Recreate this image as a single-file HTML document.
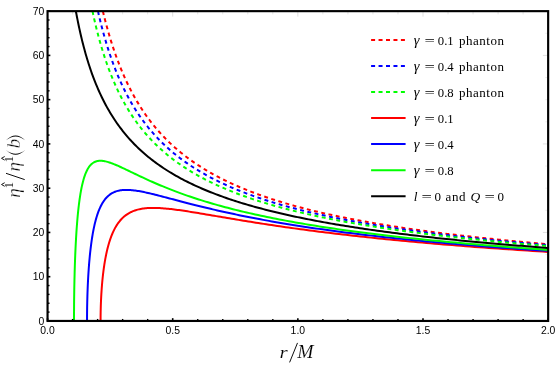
<!DOCTYPE html>
<html><head><meta charset="utf-8"><title>plot</title>
<style>html,body{margin:0;padding:0;background:#fff;}svg{display:block;will-change:transform;}text{font-family:"Liberation Sans",sans-serif;}.tk{font-size:10.4px;fill:#000;}.lg{font-family:"Liberation Serif",serif;font-size:13px;fill:#000;}.mi{font-family:"Liberation Serif",serif;font-style:italic;fill:#000;}</style></head><body>
<svg width="556" height="371" viewBox="0 0 556 371">
<rect x="0" y="0" width="556" height="371" fill="#ffffff"/>
<defs><clipPath id="cp"><rect x="47.55" y="11.15" width="500.60" height="309.80"/></clipPath></defs>
<g clip-path="url(#cp)" fill="none" stroke-width="2.00" stroke-linejoin="round">
<path d="M102.86 11.15 L102.92 11.41 L103.05 11.93 L103.22 12.63 L103.43 13.49 L103.67 14.48 L103.94 15.59 L104.24 16.80 L104.57 18.11 L104.93 19.50 L105.31 20.97 L105.72 22.51 L106.14 24.12 L106.59 25.79 L107.06 27.50 L107.55 29.27 L108.06 31.08 L108.59 32.93 L109.14 34.81 L109.71 36.72 L110.29 38.66 L110.90 40.63 L111.52 42.61 L112.16 44.61 L112.81 46.63 L113.48 48.65 L114.17 50.69 L114.87 52.73 L115.59 54.78 L116.33 56.83 L117.08 58.88 L117.85 60.93 L118.63 62.98 L119.42 65.02 L120.23 67.06 L121.06 69.09 L121.90 71.11 L122.75 73.12 L123.62 75.12 L124.50 77.11 L125.39 79.09 L126.30 81.05 L127.22 83.00 L128.16 84.93 L129.11 86.86 L130.07 88.76 L131.04 90.65 L132.03 92.52 L133.03 94.37 L134.04 96.21 L135.06 98.03 L136.10 99.83 L137.15 101.62 L138.21 103.38 L139.28 105.13 L140.37 106.86 L141.46 108.57 L142.57 110.26 L143.69 111.93 L144.83 113.59 L145.97 115.22 L147.12 116.84 L148.29 118.44 L149.47 120.02 L150.66 121.58 L151.86 123.12 L153.07 124.64 L154.29 126.15 L155.53 127.64 L156.77 129.11 L158.03 130.56 L159.29 131.99 L160.57 133.41 L161.86 134.81 L163.16 136.19 L164.47 137.55 L165.79 138.90 L167.12 140.23 L168.46 141.55 L169.81 142.85 L171.17 144.13 L172.54 145.39 L173.92 146.65 L175.31 147.88 L176.72 149.10 L178.13 150.31 L179.55 151.49 L180.98 152.67 L182.42 153.83 L183.87 154.98 L185.34 156.11 L186.81 157.23 L188.29 158.33 L189.78 159.42 L191.28 160.50 L192.79 161.56 L194.31 162.61 L195.84 163.65 L197.37 164.68 L198.92 165.69 L200.48 166.69 L202.05 167.68 L203.62 168.66 L205.21 169.62 L206.80 170.58 L208.41 171.52 L210.02 172.45 L211.64 173.37 L213.27 174.28 L214.91 175.18 L216.56 176.06 L218.22 176.94 L219.89 177.81 L221.56 178.66 L223.25 179.51 L224.94 180.35 L226.65 181.18 L228.36 181.99 L230.08 182.80 L231.81 183.60 L233.55 184.39 L235.29 185.17 L237.05 185.95 L238.81 186.71 L240.59 187.47 L242.37 188.21 L244.16 188.95 L245.96 189.68 L247.76 190.41 L249.58 191.12 L251.40 191.83 L253.23 192.53 L255.07 193.22 L256.92 193.90 L258.78 194.58 L260.65 195.25 L262.52 195.91 L264.40 196.56 L266.30 197.21 L268.19 197.85 L270.10 198.49 L272.02 199.12 L273.94 199.74 L275.87 200.35 L277.81 200.96 L279.76 201.57 L281.72 202.16 L283.68 202.75 L285.65 203.34 L287.63 203.91 L289.62 204.49 L291.62 205.05 L293.62 205.62 L295.63 206.17 L297.65 206.72 L299.68 207.27 L301.72 207.81 L303.76 208.34 L305.81 208.87 L307.87 209.39 L309.94 209.91 L312.01 210.42 L314.09 210.93 L316.18 211.44 L318.28 211.94 L320.39 212.43 L322.50 212.92 L324.62 213.41 L326.75 213.89 L328.89 214.36 L331.03 214.83 L333.18 215.30 L335.34 215.77 L337.51 216.22 L339.68 216.68 L341.86 217.13 L344.05 217.58 L346.25 218.02 L348.45 218.46 L350.66 218.89 L352.88 219.32 L355.11 219.75 L357.34 220.17 L359.58 220.59 L361.83 221.01 L364.09 221.42 L366.35 221.83 L368.62 222.24 L370.90 222.64 L373.18 223.04 L375.47 223.43 L377.77 223.82 L380.08 224.21 L382.39 224.60 L384.71 224.98 L387.04 225.36 L389.38 225.73 L391.72 226.10 L394.07 226.47 L396.43 226.84 L398.79 227.20 L401.16 227.56 L403.54 227.92 L405.92 228.27 L408.32 228.63 L410.72 228.97 L413.12 229.32 L415.53 229.66 L417.96 230.00 L420.38 230.34 L422.82 230.68 L425.26 231.01 L427.71 231.34 L430.16 231.67 L432.62 231.99 L435.09 232.31 L437.57 232.63 L440.05 232.95 L442.54 233.27 L445.04 233.58 L447.54 233.89 L450.05 234.20 L452.57 234.50 L455.09 234.81 L457.62 235.11 L460.16 235.41 L462.70 235.70 L465.25 236.00 L467.81 236.29 L470.38 236.58 L472.95 236.87 L475.53 237.15 L478.11 237.44 L480.70 237.72 L483.30 238.00 L485.90 238.28 L488.52 238.55 L491.13 238.83 L493.76 239.10 L496.39 239.37 L499.03 239.64 L501.67 239.90 L504.32 240.17 L506.98 240.43 L509.64 240.69 L512.32 240.95 L514.99 241.20 L517.68 241.46 L520.37 241.71 L523.06 241.97 L525.77 242.22 L528.48 242.46 L531.19 242.71 L533.92 242.96 L536.65 243.20 L539.38 243.44 L542.12 243.68 L544.87 243.92 L547.63 244.16 L550.39 244.39 L553.16 244.63" stroke="#ff0000" stroke-dasharray="3.9 3.51" stroke-dashoffset="0.0"/>
<path d="M97.95 11.15 L98.01 11.43 L98.14 11.98 L98.31 12.74 L98.52 13.66 L98.77 14.72 L99.05 15.90 L99.35 17.19 L99.69 18.59 L100.05 20.07 L100.43 21.64 L100.84 23.28 L101.27 24.98 L101.72 26.75 L102.20 28.57 L102.69 30.44 L103.21 32.35 L103.75 34.30 L104.30 36.28 L104.87 38.29 L105.47 40.33 L106.08 42.39 L106.70 44.47 L107.35 46.56 L108.01 48.66 L108.69 50.78 L109.39 52.90 L110.10 55.02 L110.83 57.14 L111.57 59.27 L112.33 61.39 L113.10 63.51 L113.89 65.62 L114.70 67.73 L115.52 69.82 L116.35 71.91 L117.20 73.98 L118.06 76.05 L118.94 78.09 L119.83 80.13 L120.73 82.15 L121.65 84.15 L122.58 86.14 L123.53 88.11 L124.48 90.06 L125.46 91.99 L126.44 93.90 L127.44 95.80 L128.45 97.68 L129.47 99.53 L130.51 101.37 L131.55 103.19 L132.61 104.98 L133.69 106.76 L134.77 108.52 L135.87 110.25 L136.98 111.97 L138.10 113.66 L139.23 115.34 L140.38 116.99 L141.53 118.63 L142.70 120.24 L143.88 121.84 L145.07 123.41 L146.27 124.97 L147.49 126.50 L148.71 128.02 L149.95 129.52 L151.20 131.00 L152.45 132.46 L153.72 133.90 L155.00 135.32 L156.29 136.72 L157.60 138.11 L158.91 139.48 L160.23 140.83 L161.57 142.16 L162.91 143.48 L164.27 144.77 L165.63 146.06 L167.01 147.32 L168.39 148.57 L169.79 149.80 L171.20 151.02 L172.61 152.22 L174.04 153.41 L175.48 154.58 L176.93 155.74 L178.38 156.88 L179.85 158.00 L181.33 159.12 L182.81 160.21 L184.31 161.30 L185.82 162.37 L187.34 163.43 L188.86 164.47 L190.40 165.50 L191.94 166.52 L193.50 167.52 L195.06 168.52 L196.64 169.50 L198.22 170.46 L199.81 171.42 L201.42 172.37 L203.03 173.30 L204.65 174.22 L206.28 175.13 L207.92 176.03 L209.57 176.92 L211.23 177.80 L212.89 178.67 L214.57 179.52 L216.26 180.37 L217.95 181.21 L219.65 182.03 L221.37 182.85 L223.09 183.66 L224.82 184.46 L226.56 185.25 L228.31 186.03 L230.06 186.80 L231.83 187.56 L233.60 188.32 L235.39 189.06 L237.18 189.80 L238.98 190.53 L240.79 191.25 L242.61 191.96 L244.43 192.66 L246.27 193.36 L248.11 194.05 L249.97 194.73 L251.83 195.41 L253.70 196.07 L255.57 196.73 L257.46 197.39 L259.36 198.03 L261.26 198.67 L263.17 199.30 L265.09 199.93 L267.02 200.54 L268.95 201.16 L270.90 201.76 L272.85 202.36 L274.81 202.96 L276.78 203.54 L278.76 204.12 L280.74 204.70 L282.74 205.27 L284.74 205.83 L286.75 206.39 L288.77 206.94 L290.79 207.49 L292.83 208.03 L294.87 208.57 L296.92 209.10 L298.98 209.62 L301.04 210.14 L303.12 210.66 L305.20 211.17 L307.29 211.67 L309.38 212.17 L311.49 212.67 L313.60 213.16 L315.72 213.65 L317.85 214.13 L319.99 214.61 L322.13 215.08 L324.28 215.55 L326.44 216.01 L328.61 216.47 L330.78 216.93 L332.97 217.38 L335.16 217.82 L337.35 218.27 L339.56 218.71 L341.77 219.14 L343.99 219.57 L346.22 220.00 L348.46 220.42 L350.70 220.84 L352.95 221.26 L355.21 221.67 L357.47 222.08 L359.74 222.49 L362.02 222.89 L364.31 223.29 L366.61 223.68 L368.91 224.08 L371.22 224.46 L373.54 224.85 L375.86 225.23 L378.19 225.61 L380.53 225.98 L382.88 226.36 L385.23 226.73 L387.59 227.09 L389.96 227.46 L392.34 227.82 L394.72 228.17 L397.11 228.53 L399.50 228.88 L401.91 229.23 L404.32 229.57 L406.74 229.92 L409.16 230.26 L411.60 230.59 L414.04 230.93 L416.48 231.26 L418.94 231.59 L421.40 231.92 L423.86 232.24 L426.34 232.56 L428.82 232.88 L431.31 233.20 L433.81 233.52 L436.31 233.83 L438.82 234.14 L441.34 234.45 L443.86 234.75 L446.39 235.05 L448.93 235.35 L451.47 235.65 L454.02 235.95 L456.58 236.24 L459.15 236.54 L461.72 236.82 L464.30 237.11 L466.88 237.40 L469.47 237.68 L472.07 237.96 L474.68 238.24 L477.29 238.52 L479.91 238.79 L482.54 239.07 L485.17 239.34 L487.81 239.61 L490.46 239.88 L493.11 240.14 L495.77 240.41 L498.44 240.67 L501.11 240.93 L503.79 241.19 L506.48 241.44 L509.17 241.70 L511.87 241.95 L514.58 242.20 L517.29 242.45 L520.01 242.70 L522.74 242.95 L525.47 243.19 L528.21 243.43 L530.95 243.68 L533.71 243.92 L536.47 244.15 L539.23 244.39 L542.00 244.63 L544.78 244.86 L547.57 245.09 L550.36 245.32 L553.16 245.55" stroke="#0000ff" stroke-dasharray="3.9 3.51" stroke-dashoffset="0.0"/>
<path d="M92.49 11.15 L92.55 11.45 L92.68 12.05 L92.86 12.87 L93.07 13.86 L93.32 15.00 L93.60 16.27 L93.91 17.66 L94.25 19.16 L94.61 20.75 L95.00 22.43 L95.41 24.18 L95.85 26.01 L96.31 27.89 L96.79 29.82 L97.29 31.81 L97.81 33.84 L98.35 35.90 L98.91 38.00 L99.50 40.12 L100.09 42.27 L100.71 44.43 L101.35 46.61 L102.00 48.80 L102.67 51.00 L103.36 53.21 L104.06 55.42 L104.78 57.63 L105.52 59.84 L106.27 62.04 L107.04 64.24 L107.82 66.42 L108.62 68.60 L109.44 70.77 L110.26 72.92 L111.11 75.07 L111.97 77.19 L112.84 79.30 L113.73 81.40 L114.63 83.47 L115.54 85.53 L116.47 87.56 L117.41 89.58 L118.37 91.58 L119.34 93.56 L120.32 95.51 L121.32 97.45 L122.33 99.36 L123.35 101.25 L124.39 103.12 L125.43 104.97 L126.49 106.79 L127.57 108.60 L128.65 110.38 L129.75 112.14 L130.86 113.87 L131.98 115.59 L133.12 117.28 L134.26 118.95 L135.42 120.60 L136.59 122.23 L137.77 123.84 L138.97 125.42 L140.17 126.99 L141.39 128.53 L142.62 130.05 L143.86 131.56 L145.11 133.04 L146.37 134.50 L147.65 135.94 L148.93 137.37 L150.23 138.77 L151.53 140.16 L152.85 141.53 L154.18 142.87 L155.52 144.21 L156.87 145.52 L158.23 146.81 L159.60 148.09 L160.98 149.35 L162.37 150.60 L163.78 151.82 L165.19 153.03 L166.61 154.23 L168.05 155.41 L169.49 156.57 L170.95 157.72 L172.41 158.85 L173.89 159.97 L175.37 161.07 L176.87 162.16 L178.37 163.24 L179.89 164.30 L181.41 165.34 L182.94 166.38 L184.49 167.40 L186.04 168.41 L187.61 169.40 L189.18 170.38 L190.77 171.35 L192.36 172.31 L193.96 173.25 L195.57 174.19 L197.19 175.11 L198.83 176.02 L200.47 176.92 L202.12 177.81 L203.78 178.69 L205.45 179.55 L207.12 180.41 L208.81 181.25 L210.51 182.09 L212.21 182.92 L213.93 183.73 L215.65 184.54 L217.38 185.33 L219.13 186.12 L220.88 186.90 L222.64 187.67 L224.41 188.43 L226.19 189.18 L227.97 189.92 L229.77 190.66 L231.57 191.38 L233.39 192.10 L235.21 192.81 L237.04 193.51 L238.88 194.20 L240.73 194.89 L242.59 195.57 L244.45 196.24 L246.33 196.90 L248.21 197.56 L250.10 198.21 L252.00 198.85 L253.91 199.48 L255.83 200.11 L257.76 200.73 L259.69 201.35 L261.63 201.96 L263.58 202.56 L265.54 203.15 L267.51 203.74 L269.49 204.33 L271.47 204.90 L273.46 205.48 L275.47 206.04 L277.47 206.60 L279.49 207.16 L281.52 207.70 L283.55 208.25 L285.59 208.78 L287.64 209.32 L289.70 209.84 L291.77 210.36 L293.84 210.88 L295.93 211.39 L298.02 211.90 L300.12 212.40 L302.22 212.90 L304.34 213.39 L306.46 213.88 L308.59 214.36 L310.73 214.84 L312.87 215.31 L315.03 215.78 L317.19 216.25 L319.36 216.71 L321.54 217.16 L323.72 217.61 L325.91 218.06 L328.12 218.51 L330.32 218.95 L332.54 219.38 L334.76 219.81 L337.00 220.24 L339.24 220.66 L341.48 221.08 L343.74 221.50 L346.00 221.91 L348.27 222.32 L350.55 222.73 L352.83 223.13 L355.12 223.53 L357.42 223.93 L359.73 224.32 L362.05 224.71 L364.37 225.09 L366.70 225.47 L369.04 225.85 L371.38 226.23 L373.73 226.60 L376.09 226.97 L378.46 227.33 L380.83 227.70 L383.22 228.06 L385.61 228.41 L388.00 228.77 L390.41 229.12 L392.82 229.47 L395.23 229.81 L397.66 230.16 L400.09 230.50 L402.53 230.83 L404.98 231.17 L407.44 231.50 L409.90 231.83 L412.37 232.16 L414.84 232.48 L417.32 232.80 L419.82 233.12 L422.31 233.44 L424.82 233.76 L427.33 234.07 L429.85 234.38 L432.37 234.68 L434.91 234.99 L437.45 235.29 L439.99 235.59 L442.55 235.89 L445.11 236.19 L447.68 236.48 L450.25 236.77 L452.83 237.06 L455.42 237.35 L458.02 237.63 L460.62 237.92 L463.23 238.20 L465.85 238.48 L468.47 238.75 L471.10 239.03 L473.74 239.30 L476.38 239.57 L479.03 239.84 L481.69 240.11 L484.36 240.37 L487.03 240.64 L489.71 240.90 L492.39 241.16 L495.08 241.42 L497.78 241.67 L500.49 241.93 L503.20 242.18 L505.92 242.43 L508.64 242.68 L511.37 242.93 L514.11 243.18 L516.86 243.42 L519.61 243.66 L522.37 243.90 L525.14 244.14 L527.91 244.38 L530.69 244.62 L533.47 244.85 L536.26 245.09 L539.06 245.32 L541.87 245.55 L544.68 245.78 L547.50 246.00 L550.32 246.23 L553.16 246.45" stroke="#00ff00" stroke-dasharray="3.9 3.51" stroke-dashoffset="0.0"/>
<path d="M100.58 320.95 L100.58 320.79 L100.58 320.50 L100.58 320.13 L100.58 319.69 L100.58 319.19 L100.58 318.63 L100.58 318.03 L100.59 317.38 L100.59 316.69 L100.60 315.97 L100.61 315.20 L100.62 314.40 L100.63 313.57 L100.65 312.70 L100.66 311.80 L100.68 310.88 L100.70 309.92 L100.73 308.94 L100.75 307.93 L100.78 306.90 L100.81 305.84 L100.85 304.76 L100.89 303.66 L100.93 302.53 L100.98 301.38 L101.03 300.22 L101.08 299.03 L101.14 297.83 L101.20 296.61 L101.27 295.37 L101.34 294.12 L101.42 292.85 L101.50 291.57 L101.59 290.27 L101.68 288.96 L101.78 287.64 L101.88 286.31 L101.99 284.97 L102.10 283.62 L102.22 282.26 L102.35 280.89 L102.48 279.51 L102.62 278.13 L102.77 276.75 L102.92 275.36 L103.08 273.97 L103.25 272.57 L103.42 271.18 L103.60 269.78 L103.79 268.38 L103.99 266.99 L104.20 265.60 L104.41 264.20 L104.63 262.82 L104.86 261.43 L105.10 260.06 L105.34 258.69 L105.60 257.32 L105.86 255.97 L106.14 254.62 L106.42 253.28 L106.71 251.95 L107.01 250.63 L107.33 249.33 L107.65 248.04 L107.98 246.76 L108.32 245.49 L108.67 244.24 L109.03 243.01 L109.41 241.79 L109.79 240.58 L110.19 239.40 L110.59 238.23 L111.01 237.08 L111.44 235.95 L111.88 234.84 L112.33 233.75 L112.80 232.68 L113.27 231.62 L113.76 230.60 L114.26 229.59 L114.77 228.60 L115.30 227.64 L115.84 226.70 L116.39 225.78 L116.95 224.88 L117.53 224.01 L118.12 223.16 L118.73 222.34 L119.35 221.54 L119.98 220.76 L120.63 220.01 L121.29 219.28 L121.96 218.57 L122.65 217.89 L123.36 217.23 L124.08 216.60 L124.81 215.99 L125.56 215.41 L126.33 214.85 L127.11 214.31 L127.90 213.79 L128.71 213.30 L129.54 212.84 L130.38 212.39 L131.24 211.97 L132.12 211.57 L133.01 211.19 L133.92 210.84 L134.85 210.51 L135.79 210.20 L136.75 209.91 L137.73 209.64 L138.73 209.39 L139.74 209.17 L140.77 208.96 L141.82 208.77 L142.88 208.60 L143.97 208.46 L145.07 208.33 L146.19 208.21 L147.33 208.12 L148.49 208.04 L149.67 207.99 L150.87 207.94 L152.09 207.92 L153.32 207.91 L154.58 207.92 L155.85 207.94 L157.15 207.98 L158.46 208.03 L159.80 208.10 L161.16 208.18 L162.53 208.27 L163.93 208.38 L165.35 208.50 L166.79 208.63 L168.25 208.78 L169.73 208.94 L171.23 209.11 L172.76 209.29 L174.30 209.48 L175.87 209.68 L177.46 209.89 L179.08 210.11 L180.71 210.34 L182.37 210.58 L184.05 210.83 L185.75 211.08 L187.48 211.35 L189.23 211.62 L191.00 211.90 L192.80 212.19 L194.62 212.49 L196.46 212.79 L198.33 213.10 L200.22 213.41 L202.14 213.73 L204.08 214.06 L206.05 214.39 L208.04 214.73 L210.05 215.07 L212.09 215.42 L214.16 215.77 L216.25 216.13 L218.36 216.49 L220.50 216.85 L222.67 217.22 L224.87 217.59 L227.08 217.97 L229.33 218.34 L231.60 218.72 L233.90 219.11 L236.23 219.50 L238.58 219.88 L240.96 220.28 L243.36 220.67 L245.80 221.06 L248.26 221.46 L250.75 221.86 L253.27 222.26 L255.81 222.66 L258.38 223.07 L260.98 223.47 L263.61 223.88 L266.27 224.28 L268.96 224.69 L271.68 225.10 L274.42 225.51 L277.19 225.92 L280.00 226.32 L282.83 226.73 L285.69 227.14 L288.59 227.55 L291.51 227.96 L294.46 228.37 L297.44 228.78 L300.46 229.19 L303.50 229.60 L306.57 230.01 L309.68 230.42 L312.82 230.83 L315.98 231.23 L319.18 231.64 L322.41 232.05 L325.68 232.45 L328.97 232.85 L332.30 233.26 L335.65 233.66 L339.05 234.06 L342.47 234.46 L345.92 234.86 L349.41 235.26 L352.93 235.66 L356.49 236.05 L360.08 236.45 L363.70 236.84 L367.35 237.23 L371.04 237.62 L374.76 238.01 L378.52 238.40 L382.31 238.78 L386.13 239.17 L389.99 239.55 L393.88 239.94 L397.81 240.32 L401.77 240.69 L405.77 241.07 L409.81 241.45 L413.87 241.82 L417.98 242.19 L422.12 242.56 L426.29 242.93 L430.51 243.30 L434.75 243.67 L439.04 244.03 L443.36 244.39 L447.72 244.75 L452.11 245.11 L456.54 245.47 L461.01 245.82 L465.52 246.18 L470.06 246.53 L474.64 246.88 L479.26 247.23 L483.91 247.58 L488.61 247.92 L493.34 248.26 L498.11 248.60 L502.92 248.94 L507.77 249.28 L512.65 249.62 L517.58 249.95 L522.54 250.28 L527.54 250.61 L532.59 250.94 L537.67 251.27 L542.79 251.59 L547.95 251.92 L553.16 252.24" stroke="#ff0000"/>
<path d="M87.03 320.95 L87.03 320.74 L87.03 320.34 L87.04 319.83 L87.04 319.23 L87.04 318.55 L87.04 317.79 L87.04 316.97 L87.05 316.09 L87.05 315.15 L87.06 314.16 L87.07 313.11 L87.08 312.02 L87.09 310.89 L87.11 309.71 L87.12 308.49 L87.14 307.23 L87.16 305.93 L87.19 304.59 L87.22 303.23 L87.25 301.82 L87.28 300.39 L87.32 298.92 L87.36 297.43 L87.40 295.90 L87.45 294.35 L87.50 292.78 L87.56 291.18 L87.62 289.56 L87.68 287.91 L87.75 286.25 L87.82 284.57 L87.90 282.87 L87.99 281.15 L88.08 279.42 L88.17 277.68 L88.27 275.92 L88.38 274.15 L88.49 272.38 L88.61 270.59 L88.73 268.80 L88.86 267.01 L89.00 265.20 L89.14 263.40 L89.29 261.60 L89.45 259.79 L89.62 257.99 L89.79 256.19 L89.97 254.40 L90.15 252.61 L90.35 250.83 L90.55 249.05 L90.76 247.29 L90.98 245.54 L91.21 243.80 L91.45 242.07 L91.69 240.36 L91.95 238.67 L92.21 236.99 L92.48 235.33 L92.76 233.70 L93.05 232.08 L93.35 230.48 L93.67 228.91 L93.99 227.36 L94.32 225.84 L94.66 224.34 L95.01 222.87 L95.37 221.43 L95.75 220.01 L96.13 218.63 L96.53 217.27 L96.93 215.95 L97.35 214.65 L97.78 213.39 L98.22 212.16 L98.68 210.96 L99.14 209.80 L99.62 208.67 L100.11 207.57 L100.61 206.51 L101.13 205.48 L101.66 204.48 L102.20 203.52 L102.75 202.59 L103.32 201.70 L103.90 200.85 L104.50 200.02 L105.11 199.24 L105.73 198.48 L106.37 197.77 L107.02 197.08 L107.69 196.43 L108.37 195.81 L109.06 195.23 L109.77 194.68 L110.50 194.16 L111.24 193.67 L112.00 193.22 L112.77 192.79 L113.55 192.40 L114.36 192.04 L115.18 191.71 L116.01 191.41 L116.87 191.13 L117.74 190.89 L118.62 190.67 L119.52 190.49 L120.44 190.32 L121.38 190.19 L122.33 190.08 L123.30 189.99 L124.29 189.93 L125.30 189.90 L126.33 189.88 L127.37 189.89 L128.43 189.92 L129.51 189.98 L130.61 190.05 L131.73 190.15 L132.86 190.26 L134.02 190.40 L135.19 190.55 L136.39 190.72 L137.60 190.91 L138.83 191.11 L140.09 191.33 L141.36 191.57 L142.65 191.82 L143.97 192.09 L145.30 192.37 L146.65 192.67 L148.03 192.98 L149.43 193.30 L150.85 193.63 L152.28 193.98 L153.75 194.33 L155.23 194.70 L156.73 195.08 L158.26 195.46 L159.81 195.86 L161.38 196.27 L162.97 196.68 L164.59 197.10 L166.22 197.53 L167.89 197.97 L169.57 198.42 L171.28 198.87 L173.01 199.33 L174.76 199.79 L176.54 200.26 L178.34 200.74 L180.17 201.22 L182.02 201.70 L183.89 202.19 L185.79 202.68 L187.72 203.18 L189.67 203.68 L191.64 204.18 L193.64 204.69 L195.66 205.20 L197.71 205.71 L199.79 206.23 L201.89 206.75 L204.01 207.27 L206.17 207.79 L208.35 208.31 L210.55 208.83 L212.78 209.36 L215.04 209.88 L217.33 210.41 L219.64 210.94 L221.98 211.46 L224.35 211.99 L226.74 212.52 L229.17 213.05 L231.62 213.58 L234.10 214.10 L236.60 214.63 L239.14 215.16 L241.70 215.68 L244.29 216.21 L246.91 216.73 L249.56 217.26 L252.24 217.78 L254.95 218.30 L257.69 218.82 L260.46 219.34 L263.25 219.86 L266.08 220.38 L268.94 220.89 L271.82 221.40 L274.74 221.91 L277.69 222.42 L280.67 222.93 L283.68 223.44 L286.72 223.94 L289.79 224.44 L292.90 224.95 L296.03 225.44 L299.20 225.94 L302.40 226.43 L305.63 226.93 L308.89 227.41 L312.18 227.90 L315.51 228.39 L318.87 228.87 L322.26 229.35 L325.69 229.83 L329.15 230.30 L332.64 230.78 L336.16 231.25 L339.72 231.72 L343.32 232.18 L346.94 232.65 L350.60 233.11 L354.30 233.57 L358.03 234.02 L361.79 234.47 L365.59 234.93 L369.42 235.37 L373.29 235.82 L377.19 236.26 L381.13 236.70 L385.11 237.14 L389.12 237.58 L393.16 238.01 L397.25 238.44 L401.36 238.87 L405.52 239.29 L409.71 239.72 L413.93 240.13 L418.20 240.55 L422.50 240.97 L426.84 241.38 L431.21 241.79 L435.62 242.20 L440.07 242.60 L444.56 243.00 L449.09 243.40 L453.65 243.80 L458.25 244.19 L462.89 244.58 L467.57 244.97 L472.29 245.36 L477.05 245.75 L481.84 246.13 L486.68 246.51 L491.55 246.88 L496.46 247.26 L501.41 247.63 L506.41 248.00 L511.44 248.37 L516.51 248.73 L521.63 249.09 L526.78 249.45 L531.97 249.81 L537.21 250.17 L542.48 250.52 L547.80 250.87 L553.16 251.22" stroke="#0000ff"/>
<path d="M74.01 320.95 L74.01 320.62 L74.01 320.03 L74.01 319.26 L74.01 318.35 L74.01 317.31 L74.02 316.17 L74.02 314.93 L74.02 313.59 L74.03 312.17 L74.04 310.67 L74.05 309.10 L74.06 307.45 L74.07 305.73 L74.08 303.95 L74.10 302.11 L74.12 300.21 L74.14 298.26 L74.17 296.25 L74.20 294.19 L74.23 292.09 L74.26 289.93 L74.30 287.74 L74.34 285.50 L74.39 283.23 L74.44 280.92 L74.49 278.58 L74.55 276.21 L74.61 273.81 L74.67 271.38 L74.75 268.93 L74.82 266.46 L74.90 263.98 L74.99 261.47 L75.08 258.96 L75.18 256.43 L75.28 253.89 L75.39 251.35 L75.51 248.81 L75.63 246.27 L75.75 243.73 L75.89 241.20 L76.03 238.67 L76.18 236.15 L76.33 233.65 L76.49 231.16 L76.66 228.69 L76.84 226.25 L77.02 223.82 L77.22 221.42 L77.42 219.04 L77.63 216.70 L77.84 214.39 L78.07 212.11 L78.30 209.87 L78.55 207.66 L78.80 205.50 L79.06 203.38 L79.33 201.30 L79.61 199.26 L79.90 197.27 L80.20 195.33 L80.51 193.44 L80.83 191.59 L81.16 189.80 L81.50 188.06 L81.85 186.38 L82.21 184.74 L82.58 183.17 L82.97 181.64 L83.36 180.17 L83.77 178.76 L84.18 177.41 L84.61 176.11 L85.06 174.86 L85.51 173.68 L85.98 172.54 L86.46 171.47 L86.95 170.45 L87.45 169.48 L87.97 168.58 L88.50 167.72 L89.04 166.92 L89.60 166.17 L90.17 165.48 L90.75 164.83 L91.35 164.24 L91.96 163.70 L92.59 163.20 L93.23 162.76 L93.88 162.36 L94.55 162.01 L95.24 161.71 L95.94 161.45 L96.65 161.23 L97.38 161.06 L98.13 160.92 L98.89 160.83 L99.67 160.77 L100.46 160.76 L101.27 160.78 L102.10 160.83 L102.94 160.93 L103.80 161.05 L104.67 161.21 L105.57 161.39 L106.48 161.61 L107.41 161.86 L108.35 162.13 L109.31 162.44 L110.29 162.77 L111.29 163.12 L112.31 163.50 L113.35 163.90 L114.40 164.32 L115.47 164.76 L116.56 165.22 L117.67 165.71 L118.80 166.21 L119.95 166.73 L121.12 167.26 L122.30 167.81 L123.51 168.38 L124.74 168.96 L125.99 169.55 L127.25 170.16 L128.54 170.77 L129.85 171.40 L131.18 172.04 L132.53 172.69 L133.90 173.35 L135.30 174.02 L136.71 174.69 L138.15 175.38 L139.60 176.07 L141.08 176.76 L142.58 177.47 L144.11 178.18 L145.65 178.89 L147.22 179.61 L148.81 180.33 L150.43 181.05 L152.07 181.78 L153.73 182.52 L155.41 183.25 L157.12 183.99 L158.85 184.72 L160.61 185.46 L162.39 186.20 L164.19 186.95 L166.02 187.69 L167.87 188.43 L169.75 189.17 L171.65 189.91 L173.58 190.66 L175.53 191.40 L177.51 192.14 L179.51 192.88 L181.54 193.61 L183.59 194.35 L185.67 195.08 L187.78 195.82 L189.91 196.55 L192.07 197.27 L194.26 198.00 L196.47 198.72 L198.71 199.44 L200.98 200.16 L203.27 200.87 L205.60 201.59 L207.94 202.30 L210.32 203.00 L212.73 203.70 L215.16 204.40 L217.62 205.10 L220.11 205.79 L222.63 206.48 L225.18 207.16 L227.76 207.84 L230.36 208.52 L233.00 209.19 L235.66 209.86 L238.36 210.53 L241.08 211.19 L243.83 211.85 L246.62 212.50 L249.43 213.15 L252.28 213.80 L255.15 214.44 L258.06 215.08 L261.00 215.71 L263.96 216.34 L266.96 216.96 L269.99 217.58 L273.06 218.20 L276.15 218.81 L279.28 219.42 L282.43 220.03 L285.62 220.62 L288.85 221.22 L292.10 221.81 L295.39 222.40 L298.71 222.98 L302.06 223.56 L305.45 224.13 L308.87 224.71 L312.32 225.27 L315.81 225.83 L319.33 226.39 L322.89 226.95 L326.48 227.50 L330.10 228.04 L333.76 228.58 L337.45 229.12 L341.18 229.65 L344.94 230.18 L348.74 230.71 L352.58 231.23 L356.44 231.75 L360.35 232.26 L364.29 232.77 L368.27 233.28 L372.28 233.78 L376.33 234.28 L380.41 234.77 L384.53 235.26 L388.69 235.75 L392.89 236.23 L397.12 236.71 L401.39 237.19 L405.70 237.66 L410.04 238.13 L414.43 238.59 L418.85 239.05 L423.31 239.51 L427.80 239.97 L432.34 240.42 L436.91 240.86 L441.53 241.31 L446.18 241.75 L450.87 242.18 L455.60 242.62 L460.37 243.05 L465.18 243.47 L470.03 243.90 L474.92 244.32 L479.85 244.74 L484.82 245.15 L489.83 245.56 L494.88 245.97 L499.97 246.37 L505.10 246.77 L510.27 247.17 L515.49 247.57 L520.74 247.96 L526.04 248.35 L531.38 248.73 L536.76 249.12 L542.18 249.50 L547.65 249.88 L553.16 250.25" stroke="#00ff00"/>
<path d="M75.88 11.15 L75.94 11.51 L76.07 12.23 L76.26 13.20 L76.48 14.38 L76.73 15.74 L77.02 17.25 L77.35 18.89 L77.70 20.65 L78.07 22.52 L78.48 24.47 L78.90 26.50 L79.36 28.61 L79.83 30.77 L80.33 32.99 L80.85 35.24 L81.39 37.54 L81.95 39.87 L82.53 42.22 L83.13 44.59 L83.76 46.97 L84.40 49.36 L85.05 51.76 L85.73 54.16 L86.42 56.55 L87.14 58.95 L87.87 61.33 L88.61 63.70 L89.37 66.06 L90.15 68.41 L90.95 70.74 L91.76 73.05 L92.59 75.35 L93.43 77.62 L94.29 79.87 L95.17 82.10 L96.06 84.30 L96.96 86.48 L97.88 88.63 L98.81 90.76 L99.76 92.87 L100.72 94.95 L101.70 97.00 L102.69 99.02 L103.70 101.02 L104.71 103.00 L105.75 104.94 L106.79 106.86 L107.85 108.75 L108.92 110.62 L110.01 112.46 L111.11 114.28 L112.22 116.06 L113.34 117.83 L114.48 119.57 L115.63 121.28 L116.79 122.97 L117.97 124.63 L119.16 126.27 L120.36 127.89 L121.57 129.48 L122.80 131.05 L124.03 132.59 L125.28 134.12 L126.54 135.62 L127.81 137.10 L129.10 138.56 L130.39 139.99 L131.70 141.41 L133.02 142.81 L134.35 144.18 L135.69 145.54 L137.05 146.87 L138.41 148.19 L139.79 149.49 L141.18 150.77 L142.58 152.03 L143.99 153.28 L145.41 154.50 L146.84 155.71 L148.28 156.90 L149.73 158.08 L151.20 159.24 L152.67 160.38 L154.16 161.51 L155.66 162.62 L157.16 163.72 L158.68 164.80 L160.21 165.87 L161.75 166.92 L163.30 167.96 L164.85 168.98 L166.42 170.00 L168.00 170.99 L169.59 171.98 L171.19 172.95 L172.80 173.91 L174.43 174.86 L176.06 175.79 L177.70 176.71 L179.35 177.62 L181.01 178.52 L182.68 179.41 L184.36 180.29 L186.05 181.15 L187.75 182.01 L189.46 182.85 L191.18 183.69 L192.91 184.51 L194.64 185.32 L196.39 186.13 L198.15 186.92 L199.92 187.70 L201.69 188.48 L203.48 189.25 L205.28 190.00 L207.08 190.75 L208.90 191.49 L210.72 192.22 L212.55 192.94 L214.39 193.65 L216.25 194.36 L218.11 195.06 L219.98 195.75 L221.86 196.43 L223.74 197.10 L225.64 197.77 L227.55 198.43 L229.46 199.08 L231.39 199.72 L233.32 200.36 L235.26 200.99 L237.21 201.61 L239.17 202.23 L241.14 202.84 L243.12 203.44 L245.11 204.04 L247.10 204.63 L249.11 205.21 L251.12 205.79 L253.14 206.36 L255.17 206.93 L257.21 207.49 L259.26 208.05 L261.31 208.59 L263.38 209.14 L265.45 209.68 L267.53 210.21 L269.62 210.74 L271.72 211.26 L273.83 211.77 L275.95 212.28 L278.07 212.79 L280.20 213.29 L282.34 213.79 L284.49 214.28 L286.65 214.77 L288.82 215.25 L290.99 215.73 L293.17 216.20 L295.36 216.67 L297.56 217.13 L299.77 217.59 L301.98 218.05 L304.21 218.50 L306.44 218.95 L308.68 219.39 L310.93 219.83 L313.18 220.26 L315.45 220.70 L317.72 221.12 L320.00 221.55 L322.29 221.97 L324.58 222.38 L326.89 222.79 L329.20 223.20 L331.52 223.61 L333.85 224.01 L336.18 224.40 L338.53 224.80 L340.88 225.19 L343.24 225.58 L345.61 225.96 L347.98 226.34 L350.36 226.72 L352.76 227.09 L355.15 227.46 L357.56 227.83 L359.97 228.20 L362.40 228.56 L364.83 228.92 L367.26 229.27 L369.71 229.63 L372.16 229.98 L374.62 230.33 L377.09 230.67 L379.56 231.01 L382.05 231.35 L384.54 231.69 L387.03 232.02 L389.54 232.35 L392.05 232.68 L394.57 233.00 L397.10 233.33 L399.64 233.65 L402.18 233.97 L404.73 234.28 L407.29 234.59 L409.85 234.91 L412.43 235.21 L415.01 235.52 L417.59 235.82 L420.19 236.13 L422.79 236.42 L425.40 236.72 L428.02 237.02 L430.64 237.31 L433.27 237.60 L435.91 237.89 L438.56 238.17 L441.21 238.46 L443.87 238.74 L446.54 239.02 L449.22 239.30 L451.90 239.57 L454.59 239.85 L457.28 240.12 L459.99 240.39 L462.70 240.65 L465.42 240.92 L468.14 241.18 L470.87 241.45 L473.61 241.71 L476.36 241.97 L479.11 242.22 L481.87 242.48 L484.64 242.73 L487.42 242.98 L490.20 243.23 L492.99 243.48 L495.78 243.73 L498.59 243.97 L501.40 244.21 L504.21 244.46 L507.04 244.70 L509.87 244.93 L512.71 245.17 L515.55 245.41 L518.40 245.64 L521.26 245.87 L524.13 246.10 L527.00 246.33 L529.88 246.56 L532.76 246.78 L535.66 247.01 L538.56 247.23 L541.46 247.45 L544.38 247.67 L547.30 247.89 L550.22 248.11 L553.16 248.32" stroke="#000"/>
</g>
<g stroke="#b0b0b0" stroke-width="0.4">
<line x1="47.55" y1="11.15" x2="47.55" y2="16.65"/>
<line x1="72.58" y1="11.15" x2="72.58" y2="14.35" stroke-opacity="0.8"/>
<line x1="97.61" y1="11.15" x2="97.61" y2="14.35" stroke-opacity="0.8"/>
<line x1="122.64" y1="11.15" x2="122.64" y2="14.35" stroke-opacity="0.8"/>
<line x1="147.67" y1="11.15" x2="147.67" y2="14.35" stroke-opacity="0.8"/>
<line x1="172.70" y1="11.15" x2="172.70" y2="16.65"/>
<line x1="197.73" y1="11.15" x2="197.73" y2="14.35" stroke-opacity="0.8"/>
<line x1="222.76" y1="11.15" x2="222.76" y2="14.35" stroke-opacity="0.8"/>
<line x1="247.79" y1="11.15" x2="247.79" y2="14.35" stroke-opacity="0.8"/>
<line x1="272.82" y1="11.15" x2="272.82" y2="14.35" stroke-opacity="0.8"/>
<line x1="297.85" y1="11.15" x2="297.85" y2="16.65"/>
<line x1="322.88" y1="11.15" x2="322.88" y2="14.35" stroke-opacity="0.8"/>
<line x1="347.91" y1="11.15" x2="347.91" y2="14.35" stroke-opacity="0.8"/>
<line x1="372.94" y1="11.15" x2="372.94" y2="14.35" stroke-opacity="0.8"/>
<line x1="397.97" y1="11.15" x2="397.97" y2="14.35" stroke-opacity="0.8"/>
<line x1="423.00" y1="11.15" x2="423.00" y2="16.65"/>
<line x1="448.03" y1="11.15" x2="448.03" y2="14.35" stroke-opacity="0.8"/>
<line x1="473.06" y1="11.15" x2="473.06" y2="14.35" stroke-opacity="0.8"/>
<line x1="498.09" y1="11.15" x2="498.09" y2="14.35" stroke-opacity="0.8"/>
<line x1="523.12" y1="11.15" x2="523.12" y2="14.35" stroke-opacity="0.8"/>
<line x1="548.15" y1="11.15" x2="548.15" y2="16.65"/>
<line x1="548.15" y1="320.95" x2="542.85" y2="320.95"/>
<line x1="548.15" y1="298.82" x2="545.25" y2="298.82" stroke-opacity="0.6"/>
<line x1="548.15" y1="276.69" x2="545.25" y2="276.69" stroke-opacity="0.6"/>
<line x1="548.15" y1="254.56" x2="545.25" y2="254.56" stroke-opacity="0.6"/>
<line x1="548.15" y1="232.44" x2="542.85" y2="232.44"/>
<line x1="548.15" y1="210.31" x2="545.25" y2="210.31" stroke-opacity="0.6"/>
<line x1="548.15" y1="188.18" x2="545.25" y2="188.18" stroke-opacity="0.6"/>
<line x1="548.15" y1="166.05" x2="545.25" y2="166.05" stroke-opacity="0.6"/>
<line x1="548.15" y1="143.92" x2="542.85" y2="143.92"/>
<line x1="548.15" y1="121.79" x2="545.25" y2="121.79" stroke-opacity="0.6"/>
<line x1="548.15" y1="99.66" x2="545.25" y2="99.66" stroke-opacity="0.6"/>
<line x1="548.15" y1="77.54" x2="545.25" y2="77.54" stroke-opacity="0.6"/>
<line x1="548.15" y1="55.41" x2="542.85" y2="55.41"/>
<line x1="548.15" y1="33.28" x2="545.25" y2="33.28" stroke-opacity="0.6"/>
<line x1="548.15" y1="11.15" x2="545.25" y2="11.15" stroke-opacity="0.6"/>
</g>
<g stroke="#000">
<line x1="47.55" y1="320.95" x2="47.55" y2="318.15" stroke-width="1.6"/>
<line x1="72.58" y1="320.95" x2="72.58" y2="318.95" stroke-width="1.4"/>
<line x1="97.61" y1="320.95" x2="97.61" y2="318.95" stroke-width="1.4"/>
<line x1="122.64" y1="320.95" x2="122.64" y2="318.95" stroke-width="1.4"/>
<line x1="147.67" y1="320.95" x2="147.67" y2="318.95" stroke-width="1.4"/>
<line x1="172.70" y1="320.95" x2="172.70" y2="318.15" stroke-width="1.6"/>
<line x1="197.73" y1="320.95" x2="197.73" y2="318.95" stroke-width="1.4"/>
<line x1="222.76" y1="320.95" x2="222.76" y2="318.95" stroke-width="1.4"/>
<line x1="247.79" y1="320.95" x2="247.79" y2="318.95" stroke-width="1.4"/>
<line x1="272.82" y1="320.95" x2="272.82" y2="318.95" stroke-width="1.4"/>
<line x1="297.85" y1="320.95" x2="297.85" y2="318.15" stroke-width="1.6"/>
<line x1="322.88" y1="320.95" x2="322.88" y2="318.95" stroke-width="1.4"/>
<line x1="347.91" y1="320.95" x2="347.91" y2="318.95" stroke-width="1.4"/>
<line x1="372.94" y1="320.95" x2="372.94" y2="318.95" stroke-width="1.4"/>
<line x1="397.97" y1="320.95" x2="397.97" y2="318.95" stroke-width="1.4"/>
<line x1="423.00" y1="320.95" x2="423.00" y2="318.15" stroke-width="1.6"/>
<line x1="448.03" y1="320.95" x2="448.03" y2="318.95" stroke-width="1.4"/>
<line x1="473.06" y1="320.95" x2="473.06" y2="318.95" stroke-width="1.4"/>
<line x1="498.09" y1="320.95" x2="498.09" y2="318.95" stroke-width="1.4"/>
<line x1="523.12" y1="320.95" x2="523.12" y2="318.95" stroke-width="1.4"/>
<line x1="548.15" y1="320.95" x2="548.15" y2="318.15" stroke-width="1.6"/>
<line x1="47.55" y1="320.95" x2="50.35" y2="320.95" stroke-width="1.6"/>
<line x1="47.55" y1="312.10" x2="49.55" y2="312.10" stroke-width="1.4"/>
<line x1="47.55" y1="303.25" x2="49.55" y2="303.25" stroke-width="1.4"/>
<line x1="47.55" y1="294.40" x2="49.55" y2="294.40" stroke-width="1.4"/>
<line x1="47.55" y1="285.54" x2="49.55" y2="285.54" stroke-width="1.4"/>
<line x1="47.55" y1="276.69" x2="50.35" y2="276.69" stroke-width="1.6"/>
<line x1="47.55" y1="267.84" x2="49.55" y2="267.84" stroke-width="1.4"/>
<line x1="47.55" y1="258.99" x2="49.55" y2="258.99" stroke-width="1.4"/>
<line x1="47.55" y1="250.14" x2="49.55" y2="250.14" stroke-width="1.4"/>
<line x1="47.55" y1="241.29" x2="49.55" y2="241.29" stroke-width="1.4"/>
<line x1="47.55" y1="232.44" x2="50.35" y2="232.44" stroke-width="1.6"/>
<line x1="47.55" y1="223.58" x2="49.55" y2="223.58" stroke-width="1.4"/>
<line x1="47.55" y1="214.73" x2="49.55" y2="214.73" stroke-width="1.4"/>
<line x1="47.55" y1="205.88" x2="49.55" y2="205.88" stroke-width="1.4"/>
<line x1="47.55" y1="197.03" x2="49.55" y2="197.03" stroke-width="1.4"/>
<line x1="47.55" y1="188.18" x2="50.35" y2="188.18" stroke-width="1.6"/>
<line x1="47.55" y1="179.33" x2="49.55" y2="179.33" stroke-width="1.4"/>
<line x1="47.55" y1="170.48" x2="49.55" y2="170.48" stroke-width="1.4"/>
<line x1="47.55" y1="161.62" x2="49.55" y2="161.62" stroke-width="1.4"/>
<line x1="47.55" y1="152.77" x2="49.55" y2="152.77" stroke-width="1.4"/>
<line x1="47.55" y1="143.92" x2="50.35" y2="143.92" stroke-width="1.6"/>
<line x1="47.55" y1="135.07" x2="49.55" y2="135.07" stroke-width="1.4"/>
<line x1="47.55" y1="126.22" x2="49.55" y2="126.22" stroke-width="1.4"/>
<line x1="47.55" y1="117.37" x2="49.55" y2="117.37" stroke-width="1.4"/>
<line x1="47.55" y1="108.52" x2="49.55" y2="108.52" stroke-width="1.4"/>
<line x1="47.55" y1="99.66" x2="50.35" y2="99.66" stroke-width="1.6"/>
<line x1="47.55" y1="90.81" x2="49.55" y2="90.81" stroke-width="1.4"/>
<line x1="47.55" y1="81.96" x2="49.55" y2="81.96" stroke-width="1.4"/>
<line x1="47.55" y1="73.11" x2="49.55" y2="73.11" stroke-width="1.4"/>
<line x1="47.55" y1="64.26" x2="49.55" y2="64.26" stroke-width="1.4"/>
<line x1="47.55" y1="55.41" x2="50.35" y2="55.41" stroke-width="1.6"/>
<line x1="47.55" y1="46.56" x2="49.55" y2="46.56" stroke-width="1.4"/>
<line x1="47.55" y1="37.71" x2="49.55" y2="37.71" stroke-width="1.4"/>
<line x1="47.55" y1="28.85" x2="49.55" y2="28.85" stroke-width="1.4"/>
<line x1="47.55" y1="20.00" x2="49.55" y2="20.00" stroke-width="1.4"/>
<line x1="47.55" y1="11.15" x2="50.35" y2="11.15" stroke-width="1.6"/>
</g>
<rect x="47.55" y="11.15" width="500.60" height="309.80" fill="none" stroke="#000" stroke-width="2.15"/>
<text class="tk" x="44.3" y="324.70" text-anchor="end">0</text>
<text class="tk" x="44.3" y="280.44" text-anchor="end">10</text>
<text class="tk" x="44.3" y="236.19" text-anchor="end">20</text>
<text class="tk" x="44.3" y="191.93" text-anchor="end">30</text>
<text class="tk" x="44.3" y="147.67" text-anchor="end">40</text>
<text class="tk" x="44.3" y="103.41" text-anchor="end">50</text>
<text class="tk" x="44.3" y="59.16" text-anchor="end">60</text>
<text class="tk" x="44.3" y="14.90" text-anchor="end">70</text>
<text class="tk" x="47.55" y="334.4" text-anchor="middle">0.0</text>
<text class="tk" x="172.70" y="334.4" text-anchor="middle">0.5</text>
<text class="tk" x="297.85" y="334.4" text-anchor="middle">1.0</text>
<text class="tk" x="423.00" y="334.4" text-anchor="middle">1.5</text>
<text class="tk" x="548.15" y="334.4" text-anchor="middle">2.0</text>
<text class="mi" transform="translate(279.4,358.4) scale(1.2,1)" x="0" y="0" font-size="17.6" stroke="#fff" stroke-width="0.15">r</text>
<line x1="289.6" y1="362.4" x2="297.5" y2="342.9" stroke="#000" stroke-width="0.95"/>
<text class="mi" x="297.2" y="358.4" font-size="19.5" stroke="#fff" stroke-width="0.15">M</text>
<g transform="translate(0,197.5) rotate(-90)">
<text class="mi" x="-0.30" y="20.40" font-size="19" stroke="#fff" stroke-width="0.35">&#951;</text>
<text class="lg" x="8.90" y="13.20" style="font-size:13.2px">1</text>
<polyline points="11.20,4.7 13.00,1.5 14.80,4.7" fill="none" stroke="#000" stroke-width="0.9"/>
<text class="mi" x="25.90" y="20.40" font-size="19" stroke="#fff" stroke-width="0.35">&#951;</text>
<text class="lg" x="35.10" y="13.20" style="font-size:13.2px">1</text>
<polyline points="37.40,4.7 39.20,1.5 41.00,4.7" fill="none" stroke="#000" stroke-width="0.9"/>
<line x1="17.9" y1="24.7" x2="24.2" y2="6.0" stroke="#000" stroke-width="0.95"/>
<path d="M47.50 6.00 Q38.00 15.60 47.50 25.20 Q39.90 15.60 47.50 6.00 Z" fill="#000"/>
<text class="mi" x="49.0" y="20.40" font-size="19.6" stroke="#fff" stroke-width="0.35">b</text>
<path d="M57.20 6.00 Q66.70 15.60 57.20 25.20 Q64.80 15.60 57.20 6.00 Z" fill="#000"/>
</g>
<line x1="371.1" y1="39.90" x2="405.6" y2="39.90" stroke="#ff0000" stroke-width="2.00" stroke-dasharray="4.0 3.45"/>
<text class="mi" x="413.8" y="44.95" font-size="14.5">&#947;</text>
<text class="lg" x="424.6" y="44.95" textLength="10.4" lengthAdjust="spacingAndGlyphs">=</text>
<text class="lg" x="437.8" y="44.95" textLength="15.9" lengthAdjust="spacingAndGlyphs">0.1</text>
<text class="lg" x="459.0" y="44.95" textLength="45.0" lengthAdjust="spacing">phanton</text>
<line x1="371.1" y1="65.95" x2="405.6" y2="65.95" stroke="#0000ff" stroke-width="2.00" stroke-dasharray="4.0 3.45"/>
<text class="mi" x="413.8" y="71.00" font-size="14.5">&#947;</text>
<text class="lg" x="424.6" y="71.00" textLength="10.4" lengthAdjust="spacingAndGlyphs">=</text>
<text class="lg" x="437.8" y="71.00" textLength="15.9" lengthAdjust="spacingAndGlyphs">0.4</text>
<text class="lg" x="459.0" y="71.00" textLength="45.0" lengthAdjust="spacing">phanton</text>
<line x1="371.1" y1="92.00" x2="405.6" y2="92.00" stroke="#00ff00" stroke-width="2.00" stroke-dasharray="4.0 3.45"/>
<text class="mi" x="413.8" y="97.05" font-size="14.5">&#947;</text>
<text class="lg" x="424.6" y="97.05" textLength="10.4" lengthAdjust="spacingAndGlyphs">=</text>
<text class="lg" x="437.8" y="97.05" textLength="15.9" lengthAdjust="spacingAndGlyphs">0.8</text>
<text class="lg" x="459.0" y="97.05" textLength="45.0" lengthAdjust="spacing">phanton</text>
<line x1="371.1" y1="118.05" x2="405.6" y2="118.05" stroke="#ff0000" stroke-width="2.00"/>
<text class="mi" x="413.8" y="123.10" font-size="14.5">&#947;</text>
<text class="lg" x="424.6" y="123.10" textLength="10.4" lengthAdjust="spacingAndGlyphs">=</text>
<text class="lg" x="437.8" y="123.10" textLength="15.9" lengthAdjust="spacingAndGlyphs">0.1</text>
<line x1="371.1" y1="144.10" x2="405.6" y2="144.10" stroke="#0000ff" stroke-width="2.00"/>
<text class="mi" x="413.8" y="149.15" font-size="14.5">&#947;</text>
<text class="lg" x="424.6" y="149.15" textLength="10.4" lengthAdjust="spacingAndGlyphs">=</text>
<text class="lg" x="437.8" y="149.15" textLength="15.9" lengthAdjust="spacingAndGlyphs">0.4</text>
<line x1="371.1" y1="170.15" x2="405.6" y2="170.15" stroke="#00ff00" stroke-width="2.00"/>
<text class="mi" x="413.8" y="175.20" font-size="14.5">&#947;</text>
<text class="lg" x="424.6" y="175.20" textLength="10.4" lengthAdjust="spacingAndGlyphs">=</text>
<text class="lg" x="437.8" y="175.20" textLength="15.9" lengthAdjust="spacingAndGlyphs">0.8</text>
<line x1="371.1" y1="196.20" x2="405.6" y2="196.20" stroke="#000" stroke-width="2.00"/>
<text class="mi" x="413.8" y="201.25" font-size="13.5">l</text>
<text class="lg" x="421.4" y="201.25" textLength="10.4" lengthAdjust="spacingAndGlyphs">=</text>
<text class="lg" x="434.6" y="201.25">0</text>
<text class="lg" x="445.5" y="201.25" textLength="20.0" lengthAdjust="spacing">and</text>
<text class="mi" x="470.6" y="201.25" font-size="13.5">Q</text>
<text class="lg" x="484.4" y="201.25" textLength="10.4" lengthAdjust="spacingAndGlyphs">=</text>
<text class="lg" x="497.4" y="201.25">0</text>
</svg></body></html>
